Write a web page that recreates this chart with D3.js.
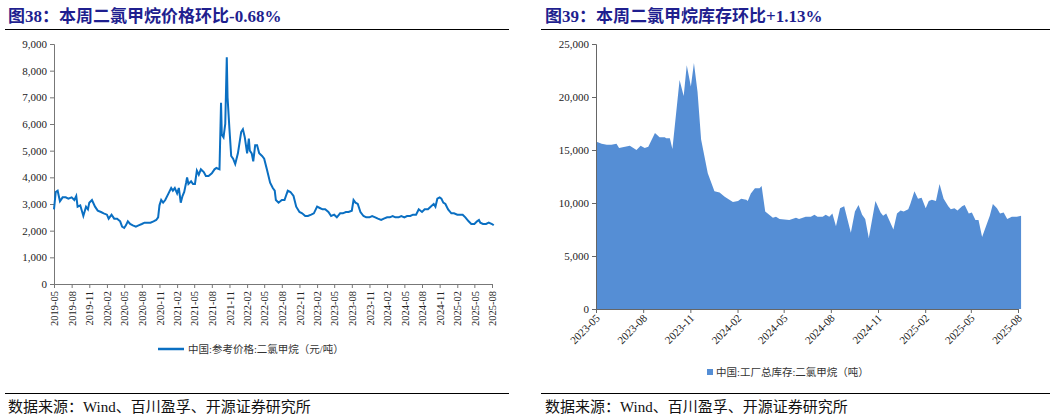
<!DOCTYPE html>
<html><head><meta charset="utf-8">
<script src="https://cdn.jsdelivr.net/npm/d3@7"></script>
<style>body{margin:0;background:#fff}svg text{font-family:"Liberation Serif","Noto Sans CJK SC",serif}</style>
</head><body><svg id="c" width="1057" height="419"></svg>
<script>
const leftTitle="图38：本周二氯甲烷价格环比-0.68%";
const rightTitle="图39：本周二氯甲烷库存环比+1.13%";
const source="数据来源：Wind、百川盈孚、开源证券研究所";
const leftLegend="中国:参考价格:二氯甲烷（元/吨）";
const rightLegend="中国:工厂总库存:二氯甲烷（吨）";
const leftYTicks=[0,1000,2000,3000,4000,5000,6000,7000,8000,9000];
const rightYTicks=[0,5000,10000,15000,20000,25000];
const leftXTicks=["2019-05","2019-08","2019-11","2020-02","2020-05","2020-08","2020-11","2021-02","2021-05","2021-08","2021-11","2022-02","2022-05","2022-08","2022-11","2023-02","2023-05","2023-08","2023-11","2024-02","2024-05","2024-08","2024-11","2025-02","2025-05","2025-08"];
const rightXTicks=["2023-05","2023-08","2023-11","2024-02","2024-05","2024-08","2024-11","2025-02","2025-05","2025-08"];
const priceDates=["2019-05-01","2019-05-10","2019-05-20","2019-06-01","2019-06-15","2019-07-01","2019-07-15","2019-08-01","2019-08-15","2019-08-25","2019-09-01","2019-09-15","2019-10-01","2019-10-15","2019-10-25","2019-11-01","2019-11-15","2019-12-01","2019-12-15","2020-01-01","2020-01-15","2020-02-01","2020-02-10","2020-02-25","2020-03-10","2020-03-25","2020-04-10","2020-04-20","2020-05-01","2020-05-10","2020-05-20","2020-06-01","2020-06-15","2020-07-01","2020-07-15","2020-08-01","2020-08-15","2020-09-01","2020-09-15","2020-10-01","2020-10-15","2020-10-25","2020-11-01","2020-11-10","2020-11-20","2020-12-01","2020-12-15","2021-01-01","2021-01-10","2021-01-20","2021-02-01","2021-02-10","2021-02-20","2021-03-01","2021-03-10","2021-03-20","2021-03-25","2021-04-01","2021-04-15","2021-04-25","2021-05-05","2021-05-15","2021-05-25","2021-06-05","2021-06-20","2021-07-01","2021-07-15","2021-08-01","2021-08-15","2021-08-25","2021-09-10","2021-09-18","2021-09-22","2021-10-01","2021-10-10","2021-10-18","2021-10-22","2021-11-01","2021-11-10","2021-11-20","2021-12-01","2021-12-15","2022-01-01","2022-01-10","2022-01-20","2022-02-01","2022-02-10","2022-02-15","2022-02-25","2022-03-05","2022-03-15","2022-03-25","2022-04-05","2022-04-20","2022-05-01","2022-05-15","2022-06-01","2022-06-15","2022-06-25","2022-07-01","2022-07-15","2022-08-01","2022-08-15","2022-09-01","2022-09-15","2022-10-01","2022-10-15","2022-11-01","2022-11-15","2022-12-01","2022-12-15","2023-01-01","2023-01-15","2023-02-01","2023-02-15","2023-03-01","2023-03-15","2023-04-01","2023-04-15","2023-05-01","2023-05-15","2023-06-01","2023-06-15","2023-07-01","2023-07-15","2023-08-01","2023-08-10","2023-08-20","2023-09-01","2023-09-15","2023-10-01","2023-10-15","2023-11-01","2023-11-15","2023-12-01","2023-12-15","2024-01-01","2024-01-15","2024-02-01","2024-02-15","2024-03-01","2024-03-15","2024-04-01","2024-04-15","2024-05-01","2024-05-15","2024-06-01","2024-06-15","2024-07-01","2024-07-15","2024-08-01","2024-08-15","2024-09-01","2024-09-15","2024-10-01","2024-10-10","2024-10-20","2024-11-01","2024-11-10","2024-11-20","2024-12-01","2024-12-15","2025-01-01","2025-01-15","2025-02-01","2025-02-15","2025-03-01","2025-03-15","2025-04-01","2025-04-15","2025-05-01","2025-05-15","2025-05-25","2025-06-01","2025-06-15","2025-07-01","2025-07-15","2025-08-01","2025-08-10"];
const priceValues=[2800,3450,3500,3100,3250,3250,3200,3250,3150,3300,2900,2950,2550,2900,2800,3050,3150,2900,2750,2700,2650,2600,2450,2600,2450,2450,2350,2150,2100,2200,2350,2250,2200,2150,2200,2250,2300,2300,2300,2350,2400,2500,2950,3150,3050,3150,3350,3600,3500,3600,3400,3600,3050,3300,3450,3800,4000,3750,3850,3750,3750,4250,4100,4300,4200,4050,4050,4150,4300,4350,4300,6800,5600,5500,6000,8500,7000,5800,4800,4700,4500,4900,5700,5800,5500,4900,5450,5000,4900,4600,5200,5200,4900,4800,4700,4300,3800,3600,3500,3150,3050,3150,3150,3500,3450,3300,2900,2700,2650,2550,2550,2600,2650,2900,2850,2800,2800,2700,2550,2600,2500,2650,2650,2700,2700,2750,3150,3050,3000,2700,2550,2500,2500,2550,2500,2450,2400,2450,2500,2500,2550,2500,2500,2550,2500,2550,2550,2600,2600,2800,2700,2800,2800,2900,3000,2900,3200,3250,3200,3050,3000,2800,2650,2650,2600,2600,2600,2500,2350,2250,2250,2350,2400,2300,2250,2250,2300,2250,2200];
const stockDates=["2023-05-01","2023-05-12","2023-05-22","2023-05-31","2023-06-10","2023-06-15","2023-07-06","2023-07-19","2023-07-27","2023-08-04","2023-08-11","2023-08-24","2023-09-02","2023-09-12","2023-09-15","2023-09-22","2023-09-27","2023-10-11","2023-10-19","2023-10-25","2023-11-02","2023-11-08","2023-11-15","2023-11-22","2023-12-05","2023-12-18","2023-12-28","2024-01-07","2024-01-23","2024-02-02","2024-02-08","2024-02-18","2024-02-21","2024-02-27","2024-03-06","2024-03-15","2024-03-19","2024-03-26","2024-04-10","2024-04-16","2024-04-23","2024-05-12","2024-05-25","2024-05-31","2024-06-13","2024-06-23","2024-06-30","2024-07-06","2024-07-16","2024-07-22","2024-07-29","2024-08-04","2024-08-11","2024-08-19","2024-08-27","2024-09-09","2024-09-17","2024-09-24","2024-10-01","2024-10-07","2024-10-14","2024-10-27","2024-11-06","2024-11-11","2024-11-17","2024-12-01","2024-12-08","2024-12-15","2024-12-21","2024-12-30","2025-01-03","2025-01-11","2025-01-18","2025-01-25","2025-02-02","2025-02-08","2025-02-14","2025-02-22","2025-03-01","2025-03-09","2025-03-18","2025-03-23","2025-03-30","2025-04-05","2025-04-14","2025-04-19","2025-04-27","2025-05-03","2025-05-10","2025-05-16","2025-05-23","2025-06-07","2025-06-13","2025-06-21","2025-06-27","2025-07-04","2025-07-11","2025-07-20","2025-07-30","2025-08-07"];
const stockValues=[15800,15600,15500,15500,15600,15200,15400,15000,15400,15200,15300,16600,16200,16200,16100,16100,15100,21600,20100,23000,21000,23200,20500,16000,12800,11100,11000,10600,10100,10200,10400,10300,10200,10900,11400,11400,11600,9200,8600,8700,8500,8400,8600,8500,8700,8700,8900,8700,8700,8900,8700,9000,7800,9500,9700,7200,9200,9800,8900,8500,6700,10200,9100,8800,9000,7500,9000,9300,9200,9400,9900,11100,10400,10500,9500,10200,10300,10200,11800,10400,9700,9400,9500,9300,9700,9800,9000,9100,8400,8400,6800,8800,9900,9500,9000,9100,8500,8700,8700,8800];

const P=d3.timeParse("%Y-%m-%d"), M=d3.timeParse("%Y-%m");
const svg=d3.select("#c");
const navy="#1f1f8f";
function frame(x0,x1,title,tx){
  svg.append("text").attr("x",tx).attr("y",22).attr("fill",navy).attr("font-size",17).attr("font-weight","bold").text(title);
  svg.append("line").attr("x1",x0).attr("x2",x1).attr("y1",29.5).attr("y2",29.5).attr("stroke","#000").attr("stroke-width",1.2);
  svg.append("line").attr("x1",x0).attr("x2",x1).attr("y1",393.5).attr("y2",393.5).attr("stroke","#000").attr("stroke-width",1.2);
  svg.append("text").attr("x",tx).attr("y",412).attr("font-size",15).attr("fill","#111").text(source);
}
frame(5,509,leftTitle,8);
frame(541,1050,rightTitle,545);

// left chart
const xL=d3.scaleTime().domain([M("2019-05"),M("2025-08")]).range([54,492]);
const yL=d3.scaleLinear().domain([0,9000]).range([284,44]);
const gL=svg.append("g");
gL.append("g").attr("transform","translate(54,0)").call(d3.axisLeft(yL).tickValues(leftYTicks).tickSize(4).tickFormat(d3.format(","))).call(g=>{g.selectAll("text").attr("font-size",11).attr("fill","#222");g.select(".domain").attr("stroke","#777");g.selectAll(".tick line").attr("stroke","#777")});
gL.append("g").attr("transform","translate(0,284)").call(d3.axisBottom(xL).tickValues(leftXTicks.map(M)).tickSize(4).tickFormat(d3.timeFormat("%Y-%m"))).call(g=>{g.select(".domain").attr("stroke","#777");g.selectAll(".tick line").attr("stroke","#777");g.selectAll("text").attr("font-size",10.5).attr("fill","#222").attr("transform","rotate(-90)").attr("text-anchor","end").attr("x",-7).attr("y",0).attr("dy","0.35em")});
gL.append("path").datum(priceDates.map((d,i)=>[P(d),priceValues[i]])).attr("fill","none").attr("stroke","#0a6fc2").attr("stroke-width",2).attr("d",d3.line().x(d=>xL(d[0])).y(d=>yL(d[1])));
gL.append("line").attr("x1",158).attr("x2",184).attr("y1",349).attr("y2",349).attr("stroke","#0a6fc2").attr("stroke-width",2.5);
gL.append("text").attr("x",188).attr("y",353).attr("font-size",10.5).attr("fill","#333").text(leftLegend);

// right chart
const xR=d3.scaleTime().domain([M("2023-05"),M("2025-08")]).range([596,1018]);
const yR=d3.scaleLinear().domain([0,25000]).range([309,44]);
const gR=svg.append("g");
gR.append("path").datum(stockDates.map((d,i)=>[P(d),stockValues[i]])).attr("fill","#558ed5").attr("d",d3.area().x(d=>xR(d[0])).y0(yR(0)).y1(d=>yR(d[1])));
gR.append("g").attr("transform","translate(596,0)").call(d3.axisLeft(yR).tickValues(rightYTicks).tickSize(4).tickFormat(d3.format(","))).call(g=>{g.selectAll("text").attr("font-size",11).attr("fill","#222");g.select(".domain").attr("stroke","#666");g.selectAll(".tick line").attr("stroke","#666")});
gR.append("g").attr("transform","translate(0,309)").call(d3.axisBottom(xR).tickValues(rightXTicks.map(M)).tickSize(4).tickFormat(d3.timeFormat("%Y-%m"))).call(g=>{g.select(".domain").attr("stroke","#666");g.selectAll(".tick line").attr("stroke","#666");g.selectAll("text").attr("font-size",11).attr("fill","#222").attr("transform","rotate(-45)").attr("text-anchor","end").attr("x",-4).attr("y",6).attr("dy","0.35em")});
gR.append("rect").attr("x",707).attr("y",369).attr("width",6).attr("height",6).attr("fill","#558ed5");
gR.append("text").attr("x",716).attr("y",376).attr("font-size",10.5).attr("fill","#333").text(rightLegend);
</script></body></html>
